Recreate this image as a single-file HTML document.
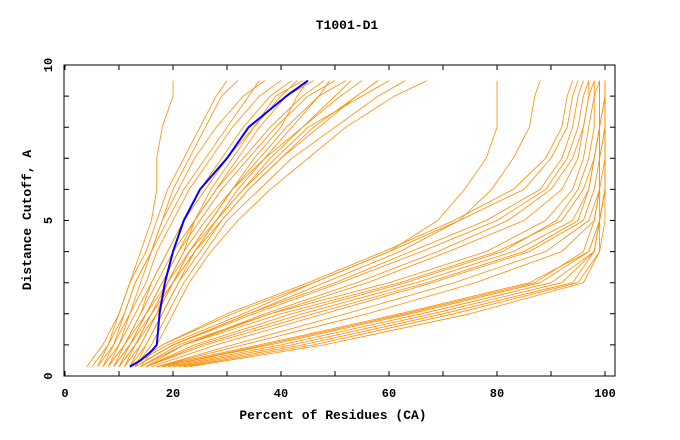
<!DOCTYPE html>
<html><head><meta charset="utf-8"><style>
html,body{margin:0;padding:0;background:#fff;}
svg{display:block;}
text{font-family:"Liberation Mono","DejaVu Sans Mono",monospace;font-weight:bold;fill:#000;}
</style></head><body>
<svg id="chart" width="680" height="440">
<text x="347" y="29" text-anchor="middle" font-size="13">T1001-D1</text>
<text x="333" y="419" text-anchor="middle" font-size="13">Percent of Residues (CA)</text>
<text transform="translate(31,220) rotate(-90)" text-anchor="middle" font-size="13">Distance Cutoff, A</text>
<g id="grid"></g>
<g id="series"></g>
<rect x="64" y="65" width="551" height="311" fill="none" stroke="#000" stroke-width="1"/>
</svg>
<script>
const levels = [0.3,1,2,3,4,5,6,7,8,9,9.5];
const clusterA = [
[4,7,10,12,15,17,19,22,25,28,30],
[6,9,12,14,16,18,20,23,26,29,32],
[7,10,13,16,19,22,26,30,35,40,43],
[8,11,14,17,20,24,28,33,38,44,48],
[9,12,15,18,21,25,29,34,39,45,50],
[10,13,17,20,23,27,31,36,41,47,52],
[11,14,17,19,22,26,31,37,44,50,53],
[12,15,18,21,24,28,33,39,45,55,60],
[13,16,19,22,26,30,36,42,50,58,63],
[14,17,20,23,27,32,38,45,52,61,67],
[7,9,11,13,16,18,21,24,28,33,37],
[8,10,12,15,17,20,23,27,31,36,40],
[9,11,14,16,19,22,25,29,33,38,42],
[10,12,15,18,21,24,27,31,35,39,44],
[11,13,16,19,22,24,28,32,36,41,46],
[6,8,10,12,14,16,17,17,18,20,20],
[12,14,17,20,24,28,33,38,44,51,55],
[13,15,18,21,25,29,34,40,46,54,58],
[9,12,16,20,24,29,34,40,47,54,58],
[8,11,15,19,23,28,32,37,42,47,49],
[10,13,16,20,23,27,31,35,40,43,45],
[5,8,11,13,16,19,22,26,30,34,36]
];
const clusterB = [
[17,36,62,86,97,99,99,100,100,100,100],
[18,38,64,88,97,99,100,100,100,100,100],
[19,40,66,90,98,99,100,100,100,100,100],
[20,42,68,92,98,99,100,100,100,100,100],
[21,44,70,94,98,99,100,100,100,100,100],
[22,46,72,95,99,99,100,100,100,100,100],
[23,48,75,96,99,100,100,100,100,100,100],
[18,37,63,87,96,98,99,99,99,100,100],
[14,22,40,62,80,92,96,98,99,99,99],
[15,25,44,65,83,94,97,98,99,99,99],
[16,28,48,68,86,96,98,99,99,100,100],
[14,21,38,60,78,89,94,96,97,98,98],
[15,26,46,67,85,95,97,98,99,99,99],
[17,31,52,72,89,97,99,99,100,100,100],
[15,24,42,63,81,91,95,97,98,98,99],
[17,33,56,76,92,98,99,99,100,100,100],
[13,20,34,50,64,78,88,92,94,95,96],
[12,18,31,46,60,73,85,90,93,94,95],
[14,22,37,54,69,82,90,94,96,97,97],
[13,20,35,51,66,80,89,93,95,96,97],
[15,22,38,56,71,85,92,95,96,97,98],
[12,18,30,45,59,72,83,89,92,93,94],
[12,19,33,46,60,69,74,78,80,80,80],
[13,20,34,48,62,73,79,83,86,87,88]
];
const blueY = [0.3,0.5,0.8,1,2,3,4,5,6,7,7.5,8,9,9.5];
const blueX = [12,14,16,17,17.5,18.5,20,22,25,30,32,34,41,45];
const xTicks = [0,20,40,60,80,100];
const yTicks = [0,5,10];

const NS="http://www.w3.org/2000/svg";
const sx = v => 65 + v*5.4;
const sy = v => 376 - v*31.1;
const grid = document.getElementById('grid');
const ser = document.getElementById('series');
function mk(tag, attrs, parent){const e=document.createElementNS(NS,tag);for(const k in attrs)e.setAttribute(k,attrs[k]);parent.appendChild(e);return e;}

for (let v=0; v<=100; v+=10){
  const t=mk('path',{d:`M${sx(v)},376v-5M${sx(v)},65v5`,stroke:'#000','stroke-width':1},grid);
  
  
}
for (let v=0; v<=10; v+=1){
  const t=mk('path',{d:`M64,${sy(v)}h5M615,${sy(v)}h-5`,stroke:'#000','stroke-width':1},grid);
  
  
}
xTicks.forEach(v=>{
  const t=mk('text',{x:sx(v),y:397,'text-anchor':'middle','font-size':12},grid);
  t.textContent=v;
  
  
});
yTicks.forEach(v=>{
  const yy = v===10 ? 65 : sy(v);
  const t=mk('text',{transform:`translate(52,${yy}) rotate(-90)`,'text-anchor':'middle','font-size':12},grid);
  t.textContent=v;
  
  
});

function drawLine(xs, ys, color, w, name){
  const pts = xs.map((x,i)=>sx(x).toFixed(1)+','+sy(ys[i]).toFixed(1)).join(' ');
  const p=mk('polyline',{points:pts,fill:'none',stroke:color,'stroke-width':w,'stroke-linejoin':'round'},ser);
  
  
}
clusterA.forEach(c=>drawLine(c,levels,'#ff8c00',0.8,'model-line'));
clusterB.forEach(c=>drawLine(c,levels,'#ff8c00',0.8,'model-line'));
drawLine(blueX,blueY,'#0000ff',2,'highlighted-model-line');
</script>
</body></html>
